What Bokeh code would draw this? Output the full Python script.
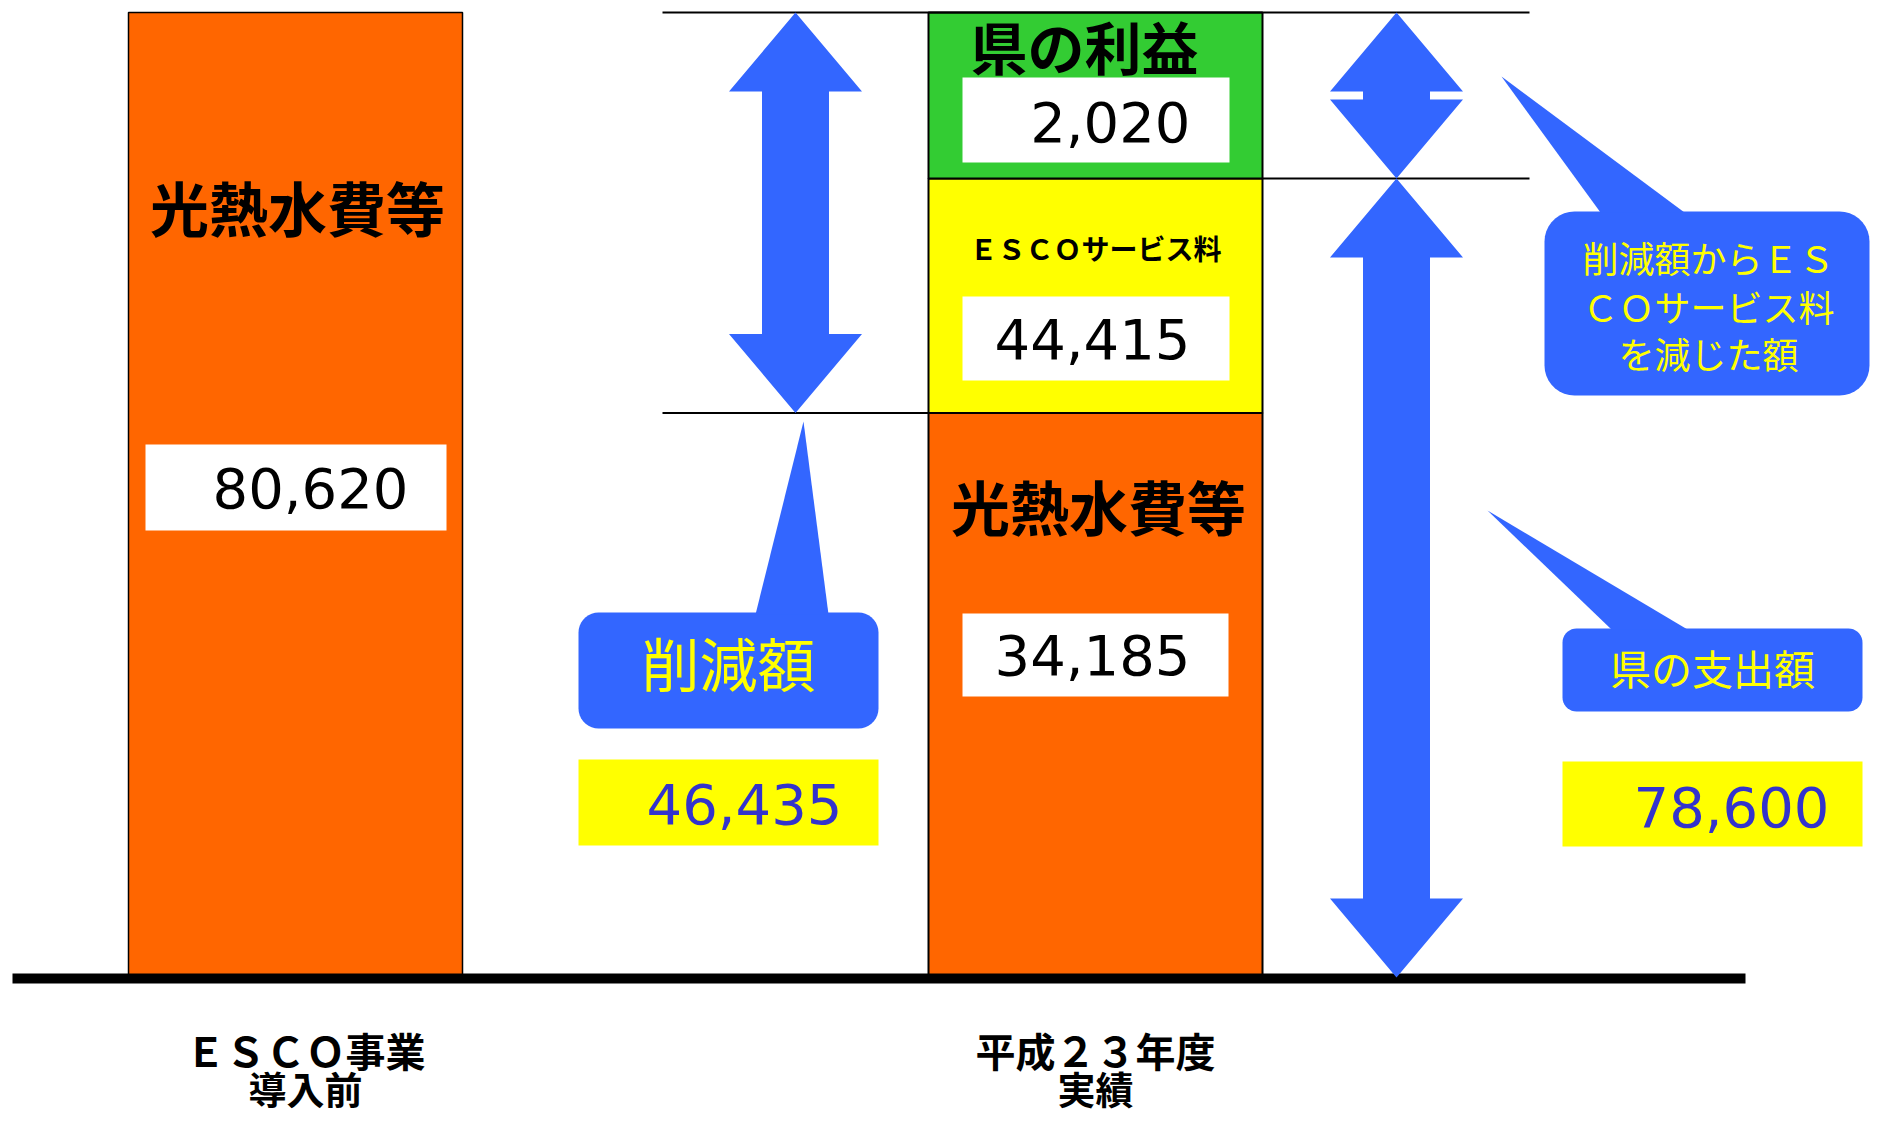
import numpy as np
from bokeh.plotting import figure
from bokeh.models import Range1d
from bokeh.embed import file_html
from bokeh.resources import INLINE
from bokeh.core.properties import value

# ---------------- data ----------------
categories = ["ＥＳＣＯ事業\n導入前", "平成２３年度\n実績"]
before_labels = ["光熱水費等"]
before_values = [80620]
after_labels = ["光熱水費等", "ＥＳＣＯサービス料", "県の利益"]
after_values = [34185, 44415, 2020]
after_heights = [58.5, 24.3, 17.2]   # schematic drawn share (% of bar height)
after_colors = ["#FF6600", "#FFFF00", "#33CC33"]
reduction_label = "削減額"
reduction_value = 46435
spend_label = "県の支出額"
spend_value = 78600
profit_note = ["削減額からＥＳ", "ＣＯサービス料", "を減じた額"]

# ---------------- layout helpers ----------------
W, H = 1871, 1114
BASE = 977.0
PX = 9.65


def yv(py):
    return (BASE - py) / PX


def pyv(v):
    return BASE - v * PX


CJK = value("Noto Sans CJK JP")
NUM = value("DejaVu Sans")
BLUE = "#3366FF"

p = figure(width=W, height=H, output_backend="svg", toolbar_location=None,
           x_range=Range1d(0, W), y_range=Range1d(yv(H), yv(0)),
           x_axis_location=None, y_axis_location=None, min_border=0)
p.grid.visible = False
p.outline_line_color = None
p.background_fill_color = "white"
p.border_fill_color = "white"

xc = [295, 1095]
bw = 334
total_h = float(sum(after_heights))

# ---------------- bars ----------------
p.vbar(x=[xc[0]], width=bw, bottom=[0], top=[total_h],
       fill_color="#FF6600", line_color="black", line_width=1.5)
tops = np.cumsum(after_heights)
bottoms = tops - np.array(after_heights)
p.vbar(x=[xc[1]] * 3, width=bw, bottom=list(bottoms), top=list(tops),
       fill_color=after_colors, line_color="black", line_width=2)

lvl_top = total_h
lvl_mid = tops[1]
lvl_low = tops[0]


def quad(l, r, t, b, color):
    p.quad(left=[l], right=[r], top=[yv(t)], bottom=[yv(b)],
           fill_color=color, line_color=None)


def txt(x, y, s, font, size, color="black", style="normal", align="center", baseline="middle"):
    p.text(x=[x], y=[yv(y)], text=[s], text_font=font, text_font_size=size,
           text_color=color, text_font_style=style, text_align=align,
           text_baseline=baseline)


# white value boxes
quad(145, 446, 444, 530, "white")
quad(962, 1229, 77, 162, "white")
quad(962, 1229, 296, 380, "white")
quad(962, 1228, 613, 696, "white")
# yellow value boxes
quad(578, 878, 759, 845, "#FFFF00")
quad(1562, 1862, 761, 846, "#FFFF00")

# bar texts
txt(297, 206, before_labels[0], CJK, "59px", style="bold")
txt(1098, 505, after_labels[0], CJK, "59px", style="bold")
txt(1095, 247, after_labels[1], CJK, "28px", style="bold")
txt(1084, 44, after_labels[2], CJK, "57px", style="bold")

# value numbers (vertical centre of the digits)
txt(408, 487, f"{before_values[0]:,}", NUM, "56px", align="right")
txt(1190, 121, f"{after_values[2]:,}", NUM, "56px", align="right")
txt(1190, 338, f"{after_values[1]:,}", NUM, "56px", align="right")
txt(1190, 654, f"{after_values[0]:,}", NUM, "56px", align="right")
txt(842, 803, f"{reduction_value:,}", NUM, "56px", color="#3333CC", align="right")
txt(1829, 806, f"{spend_value:,}", NUM, "56px", color="#3333CC", align="right")

# category labels
for cx, cat in zip([305, 1095], categories):
    l1, l2 = cat.split("\n")
    txt(cx, 1049, l1, CJK, "40px", style="bold")
    txt(cx, 1087, l2, CJK, "38px", style="bold")

# reference lines
p.line(x=[662, 1529], y=[lvl_top, lvl_top], line_color="black", line_width=2)
p.line(x=[1262, 1529], y=[lvl_mid, lvl_mid], line_color="black", line_width=2)
p.line(x=[662, 928], y=[lvl_low, lvl_low], line_color="black", line_width=2)
p.line(x=[12, 1745], y=[yv(978), yv(978)], line_color="black", line_width=10)


# ---------------- arrows ----------------
def double_arrow(cx, t, b, head=79, hw=66.5, sw=33.5):
    xs = [cx, cx + hw, cx + sw, cx + sw, cx + hw, cx, cx - hw, cx - sw, cx - sw, cx - hw]
    ys = [t, t + head, t + head, b - head, b - head, b, b - head, b - head, t + head, t + head]
    return xs, [yv(v) for v in ys]


arrows = [double_arrow(795, pyv(lvl_top), pyv(lvl_low)),
          double_arrow(1396, pyv(lvl_top), pyv(lvl_mid)),
          double_arrow(1396, pyv(lvl_mid), pyv(0))]
p.patches(xs=[a[0] for a in arrows], ys=[a[1] for a in arrows],
          fill_color=BLUE, line_color=None)


# ---------------- callouts ----------------
def rrect(l, r, t, b, rad, n=10):
    xs, ys = [], []
    corners = [(r - rad, t + rad, -90, 0), (r - rad, b - rad, 0, 90),
               (l + rad, b - rad, 90, 180), (l + rad, t + rad, 180, 270)]
    for cx, cy, a0, a1 in corners:
        for a in np.linspace(np.radians(a0), np.radians(a1), n):
            xs.append(cx + rad * np.cos(a))
            ys.append(yv(cy + rad * np.sin(a)))
    return xs, ys


shapes = [rrect(578, 878, 612, 728, 20),
          rrect(1544, 1869, 211, 395, 30),
          rrect(1562, 1862, 628, 711, 14)]
tails = [([803, 755, 828], [421, 614, 614]),
         ([1501, 1600, 1684], [76, 212, 212]),
         ([1487, 1611, 1687], [510, 629, 629])]
for tx, ty in tails:
    shapes.append((tx, [yv(v) for v in ty]))
p.patches(xs=[s[0] for s in shapes], ys=[s[1] for s in shapes],
          fill_color=BLUE, line_color=None)

txt(728, 661, reduction_label, CJK, "58px", color="#FFFF00")
txt(1712, 666, spend_label, CJK, "41px", color="#FFFF00")
for yy, line in zip([256, 305, 352], profit_note):
    txt(1708, yy, line, CJK, "36px", color="#FFFF00")

open("out.html", "w").write(file_html(p, INLINE))
